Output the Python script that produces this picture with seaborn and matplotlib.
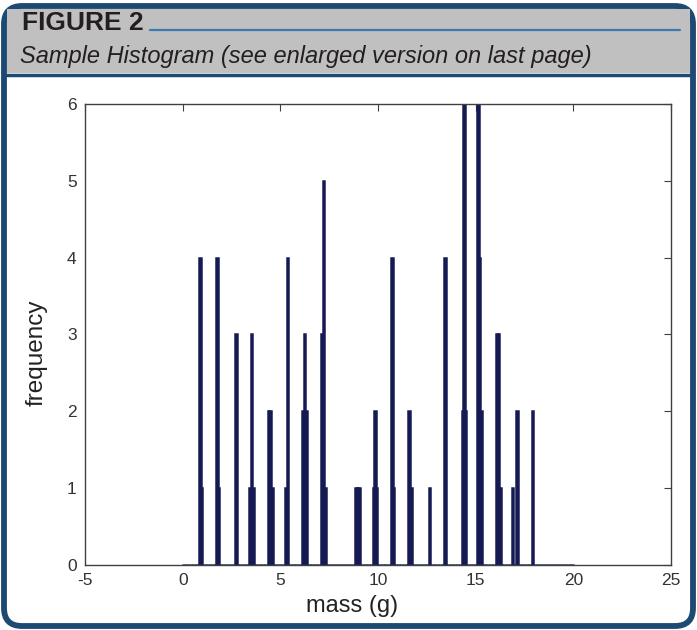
import numpy as np
import pandas as pd
import seaborn as sns
import matplotlib.pyplot as plt
from matplotlib.patches import FancyBboxPatch, Rectangle

# bin centres (g) and how many samples fall in each bin
mass = [0.88, 0.96, 1.76, 1.84, 2.72, 3.44, 3.52, 3.60, 4.40, 4.48, 4.56,
        5.28, 5.36, 6.16, 6.24, 6.32, 7.12, 7.20, 7.28, 8.88, 8.96, 9.04,
        9.76, 9.84, 9.92, 10.72, 10.80, 11.60, 11.68, 12.64, 13.44,
        14.32, 14.40, 14.48, 15.12, 15.20, 15.28, 16.08, 16.16, 16.24,
        16.88, 17.12, 17.92]
freq = [4, 1, 4, 1, 3, 1, 3, 1, 2, 2, 1,
        1, 4, 2, 3, 2, 3, 5, 1, 1, 1, 1,
        1, 2, 1, 4, 1, 2, 1, 1, 4,
        2, 6, 2, 6, 4, 2, 3, 3, 1,
        1, 2, 2]

x_ticks = [-5, 0, 5, 10, 15, 20, 25]
y_ticks = [0, 1, 2, 3, 4, 5, 6]

header = "FIGURE 2"
subtitle = "Sample Histogram (see enlarged version on last page)"

df = pd.DataFrame({"mass": mass, "freq": freq})

sns.set_style("white")
plt.rcParams['font.family'] = ['Liberation Sans', 'DejaVu Sans']
plt.rcParams['axes.unicode_minus'] = False

navy = "#161a52"
border = "#1d4a72"

fig = plt.figure(figsize=(6.97, 6.30), dpi=100)

# frame drawn in pixel coordinates
bg = fig.add_axes([0, 0, 1, 1], zorder=0)
bg.set_xlim(0, 697)
bg.set_ylim(630, 0)
bg.axis("off")
bg.add_patch(FancyBboxPatch((4, 6), 689, 620, boxstyle="round,pad=0,rounding_size=18",
                            facecolor="white", edgecolor=border, lw=4.2))
bg.add_patch(Rectangle((7, 9), 683, 64, facecolor="#c0c0c0", edgecolor="none"))
bg.plot([7, 690], [74.5, 74.5], color=border, lw=2.5)
bg.plot([150, 680], [30, 30], color="#3d78ae", lw=1.6)
bg.text(22, 23, header, fontsize=19, fontweight="bold", color="#231f20",
        va="center", ha="left")
bg.text(20, 57, subtitle, fontsize=17, style="italic", color="#231f20",
        va="center", ha="left")

ax = fig.add_axes([0.122, 0.1032, 0.8407, 0.7317], zorder=1)
sns.histplot(data=df, x="mass", weights="freq", binwidth=0.08, binrange=(-0.04, 20.04),
             color=navy, edgecolor=navy, linewidth=1.8, alpha=1, ax=ax)

ax.set_xlim(-5, 25)
ax.set_ylim(0, 6)
ax.set_xticks(x_ticks)
ax.set_yticks(y_ticks)
ax.tick_params(direction="in", top=True, right=True, length=5, width=0.8,
               color="#404040", labelcolor="#333333", labelsize=12.5, pad=6)
for s in ax.spines.values():
    s.set_color("#404040")
    s.set_linewidth(1.0)
ax.set_xlabel("mass (g)", fontsize=17, color="#222222")
ax.set_ylabel("frequency", fontsize=17.5, color="#222222")
ax.xaxis.set_label_coords(0.455, -0.066)
ax.yaxis.set_label_coords(-0.064, 0.46)

fig.savefig("out.png", dpi=100)
